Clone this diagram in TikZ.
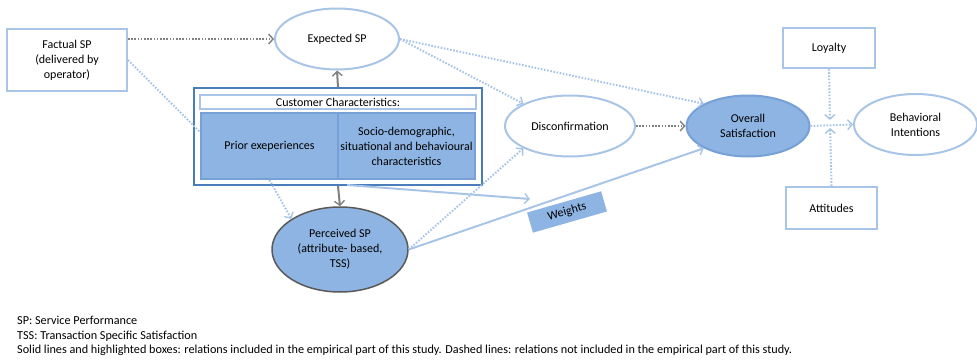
\documentclass[tikz,border=0pt]{standalone}
\usepackage{fontspec}
\setmainfont{Carlito}
\usetikzlibrary{shapes.geometric,arrows.meta}
\definecolor{lineblue}{RGB}{168,196,230}
\definecolor{fillblue}{RGB}{141,180,226}
\definecolor{boxblue}{RGB}{74,126,187}
\definecolor{edgeblue}{RGB}{118,160,214}
\definecolor{arrowgray}{RGB}{128,128,128}

\begin{document}
\begin{tikzpicture}
  [x=1pt,y=-1pt,font=\fontsize{12}{15}\selectfont,
   every node/.style={align=center,inner sep=0pt},
   plain/.style={draw=lineblue,line width=2pt,fill=white},
   ell/.style={ellipse,plain},
   hl/.style={draw=edgeblue,fill=fillblue,line width=2pt},
   tip/.style={-{Straight Barb[length=4.5pt,width=10pt,line width=1.4pt]}},
   dots/.style={line width=2pt,dash pattern=on 1.6pt off 1.6pt},
   grayline/.style={draw=arrowgray,line width=2pt,tip},
   blueline/.style={draw=lineblue,line width=2pt}]

  \useasboundingbox (0,0) rectangle (977,364);

  \node[plain,minimum width=120,minimum height=62] (fs) at (67,60) {Factual SP\\(delivered by\\operator)};
  \node[ell,minimum width=124,minimum height=61] (es) at (337,39) {Expected SP};
  \node[draw=boxblue,line width=2pt,minimum width=288,minimum height=97] (cc) at (338,136.5) {};
  \node[plain,minimum width=276,minimum height=14] (ct) at (338,102) {Customer Characteristics:};
  \node[hl,minimum width=137,minimum height=66] (pe) at (269.5,146) {Prior exeperiences};
  \node[hl,minimum width=137,minimum height=66] (sd) at (406.5,146) {Socio-demographic,\\situational and behavioural\\characteristics};
  \node[ellipse,fill=fillblue,draw=black!65,line width=1.5pt,minimum width=136,minimum height=85] (ps) at (340,249.5) {Perceived SP\\(attribute- based,\\TSS)};
  \node[ell,minimum width=130,minimum height=61] (dc) at (570,126) {Disconfirmation};
  \node[ellipse,hl,minimum width=123,minimum height=61] (os) at (748,126) {Overall\\Satisfaction};
  \node[plain,minimum width=92,minimum height=40] (ly) at (829,48) {Loyalty};
  \node[plain,minimum width=91,minimum height=42] (at) at (831.5,208) {Attitudes};
  \node[ell,minimum width=123,minimum height=61] (bi) at (915.5,124.5) {Behavioral\\Intentions};
  \node[fill=fillblue,rotate=16,minimum width=77,minimum height=21] (wt) at (567,212) {Weights};
  \node[anchor=north west,align=left,font=\fontsize{12.2}{14.5}\selectfont] (notes) at (17,316)
    {SP: Service Performance\\TSS: Transaction Specific Satisfaction\\Solid lines and highlighted boxes: relations included in the empirical part of this study. Dashed lines: relations not included in the empirical part of this study.};

  \coordinate (jn) at (830,124);
  \coordinate (ws) at (347,185);
  \coordinate (we) at (530,199);

  \draw[grayline,dots] (fs.east |- es.west) -- (es.west);
  \draw[grayline,dots] (dc.east) -- (os.west);
  \draw[grayline] (cc.north) -- (es.south);
  \draw[grayline] (cc.south) -- (ps.north);
  \draw[blueline,dots] (fs.east) -- ([yshift=14pt]pe.west);
  \foreach \from/\to in {es.east/dc.north west,es.east/os.north west,ps.east/dc.south west,pe.south/ps.north west,os.east/bi.west}
    \draw[blueline,dots,tip] (\from) -- (\to);
  \draw[blueline,dots,tip,shorten >=4pt] (ly.south) -- (jn);
  \draw[blueline,dots,tip,shorten >=4pt] (at.north) -- (jn);
  \draw[blueline,tip] (ps.east) -- (os.south west);
  \draw[blueline,tip] (ws) -- (we);
\end{tikzpicture}
\end{document}
